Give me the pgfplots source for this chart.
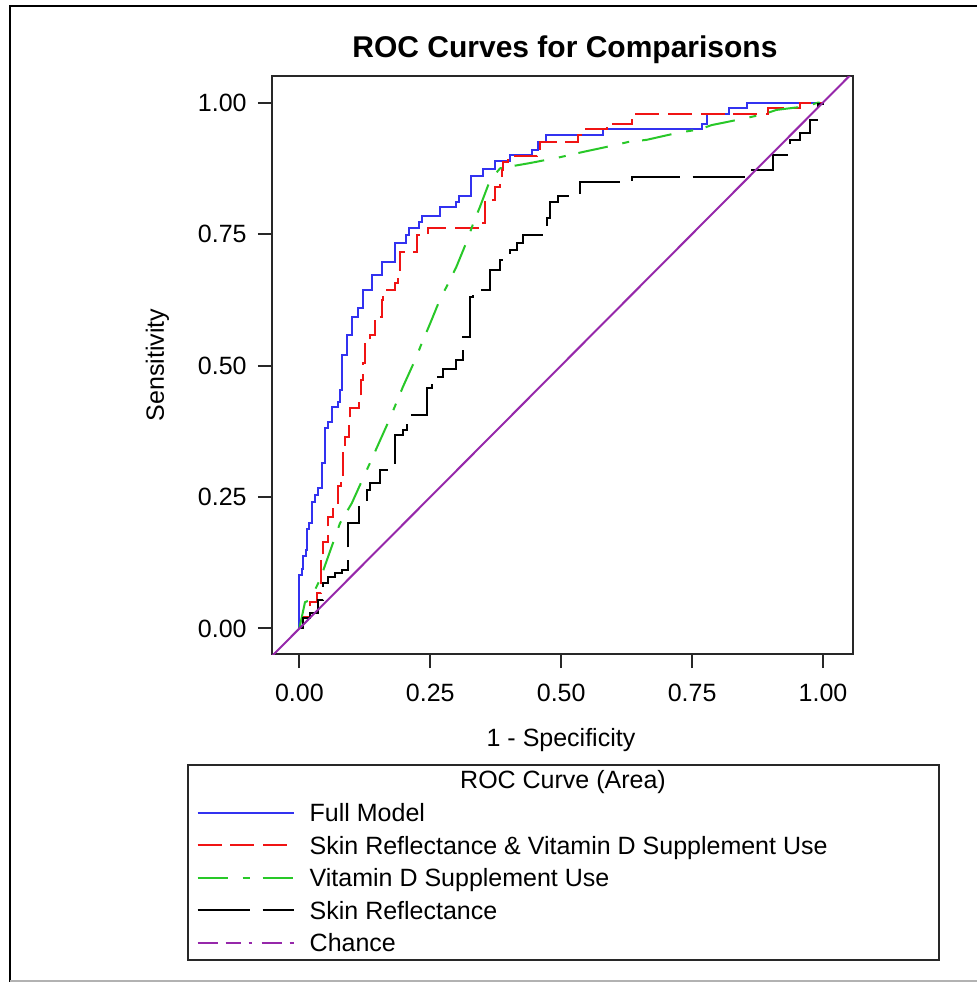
\documentclass[border=0pt]{standalone}
\usepackage{fontspec}
\setmainfont{Liberation Sans}
\usepackage{pgfplots}
\pgfplotsset{compat=1.18}

\definecolor{rocblue}{RGB}{50,50,240}
\definecolor{rocred}{RGB}{240,20,20}
\definecolor{rocgreen}{RGB}{40,200,40}
\definecolor{rocpurple}{RGB}{150,40,170}
\definecolor{framecol}{RGB}{40,40,40}
\newcommand{\txt}{\fontsize{12.5}{15}\selectfont}

\begin{document}
\begin{tikzpicture}
\useasboundingbox (0,0) rectangle (488.5pt,491pt);
\fill[white] (0,0) rectangle (488.5pt,491pt);
% outer frame
\draw[black, line width=1pt] (5pt,0pt) -- (5pt,488pt) -- (488.5pt,488pt);
\draw[black!30, line width=0.8pt] (5pt,0.5pt) -- (488.5pt,0.5pt);

\begin{axis}[
  at={(136pt,164pt)}, anchor=south west,
  scale only axis, width=290.5pt, height=289pt,
  xmin=-0.0523, xmax=1.0573, ymin=-0.0485, ymax=1.0504,
  xtick={0,0.25,0.5,0.75,1}, ytick={0,0.25,0.5,0.75,1},
  xtick pos=left, ytick pos=left,
  tick align=outside, major tick length=7pt,
  axis line style={framecol, line width=1pt},
  every tick/.append style={framecol, line width=1pt},
  tick label style={font=\txt},
  /pgf/number format/assume math mode=true,
  xticklabel={\pgfmathprintnumber[fixed,fixed zerofill,precision=2]{\tick}},
  yticklabel={\pgfmathprintnumber[fixed,fixed zerofill,precision=2]{\tick}},
  xticklabel style={inner sep=0pt, yshift=-8pt},
  yticklabel style={inner sep=0pt, xshift=-5.5pt},
  title={ROC Curves for Comparisons},
  title style={font=\fontsize{15}{18}\selectfont\bfseries, at={(axis description cs:0.5043,1.0104)}, anchor=base, inner sep=0pt},
  xlabel={1 - Specificity},
  xlabel style={font=\txt, at={(axis description cs:0.4974,-0.1592)}, anchor=base, inner sep=0pt},
  ylabel={Sensitivity},
  ylabel style={font=\txt, at={(axis description cs:-0.1859,0.5)}, anchor=base, inner sep=0pt},
  legend cell align=left,
  legend image code/.code={\draw[#1, line width=1pt] (0pt,0pt) -- (48pt,0pt);},
  legend style={at={(axis description cs:-0.1296,-0.2595)}, anchor=north west,
    draw=none, fill=none, inner sep=0pt, outer sep=0pt,
    row sep=7.25pt, column sep=7.5pt,
    nodes={inner sep=0pt, text height=9pt, text depth=0pt, font=\txt}},
]
% Full Model
\addplot[rocblue, line width=1pt, const plot mark left] coordinates {
(0,0) (0,0.102) (0.0044,0.114) (0.0074,0.137) (0.012,0.149) (0.015,0.190)
(0.019,0.200) (0.0235,0.241) (0.030,0.254) (0.036,0.267) (0.0426,0.314)
(0.049,0.381) (0.055,0.393) (0.062,0.422) (0.074,0.431) (0.0775,0.453)
(0.081,0.520) (0.0915,0.558) (0.100,0.593) (0.1125,0.609) (0.122,0.644)
(0.139,0.672) (0.158,0.697) (0.1826,0.732) (0.2036,0.748) (0.210,0.761)
(0.229,0.773) (0.2336,0.784) (0.2685,0.801) (0.299,0.811) (0.305,0.822)
(0.327,0.860) (0.351,0.873) (0.3736,0.889) (0.402,0.900) (0.445,0.910)
(0.456,0.925) (0.471,0.938) (0.580,0.949) (0.768,0.960) (0.778,0.978)
(0.821,0.989) (0.855,1.0) (1.0,1.0)
};
\addlegendentry{Full Model}
% Skin Reflectance & Vitamin D Supplement Use
\addplot[rocred, line width=1pt, dash pattern=on 12pt off 4.35pt, const plot mark left] coordinates {
(0,0) (0.0074,0.022) (0.020,0.051) (0.033,0.067) (0.0407,0.130) (0.0456,0.165)
(0.055,0.2125) (0.0647,0.2316) (0.0743,0.270) (0.079,0.292) (0.084,0.339)
(0.0877,0.365) (0.0953,0.390) (0.0966,0.419) (0.113,0.441) (0.117,0.472)
(0.121,0.504) (0.125,0.545) (0.135,0.558) (0.144,0.593) (0.157,0.6245)
(0.160,0.6435) (0.1826,0.657) (0.189,0.6816) (0.192,0.716) (0.224,0.748)
(0.246,0.761) (0.351,0.770) (0.3545,0.811) (0.361,0.815) (0.3736,0.840)
(0.384,0.853) (0.386,0.872) (0.389,0.887) (0.399,0.898) (0.454,0.910)
(0.4595,0.924) (0.5327,0.938) (0.542,0.949) (0.587,0.960) (0.635,0.9776)
(0.8955,0.989) (0.956,1.0) (1.0,1.0)
};
\addlegendentry{Skin Reflectance \& Vitamin D Supplement Use}
% Vitamin D Supplement Use
\addplot[rocgreen, line width=1pt, dash pattern=on 15pt off 7.5pt on 3.5pt off 6.5pt] coordinates {
(0,0) (0.0107,0.050) (0.020,0.054) (0.039,0.092) (0.0775,0.200) (0.100,0.238)
(0.1345,0.314) (0.173,0.3996) (0.198,0.460) (0.221,0.5105) (0.2336,0.542)
(0.2498,0.580) (0.268,0.6245) (0.2876,0.6625) (0.300,0.688) (0.3195,0.7354)
(0.332,0.770) (0.345,0.802) (0.3644,0.853) (0.3835,0.875) (0.441,0.885)
(0.4977,0.896) (0.5416,0.906) (0.6027,0.919) (0.628,0.925) (0.663,0.929)
(0.7236,0.9426) (0.765,0.949) (0.787,0.957) (0.8415,0.968) (0.886,0.9776)
(0.9116,0.986) (0.969,0.993) (0.991,1.0) (1.0,1.0)
};
\addlegendentry{Vitamin D Supplement Use}
% Skin Reflectance
\addplot[black, line width=1pt, dash pattern=on 26pt off 6.5pt, const plot mark left] coordinates {
(0,0) (0.0074,0.019) (0.020,0.029) (0.036,0.054) (0.0445,0.086) (0.055,0.098)
(0.068,0.105) (0.081,0.111) (0.0934,0.200) (0.1144,0.238) (0.1285,0.2633)
(0.135,0.276) (0.154,0.301) (0.1667,0.314) (0.1826,0.3679) (0.198,0.377)
(0.205,0.406) (0.243,0.4567) (0.2527,0.469) (0.262,0.479) (0.275,0.493)
(0.300,0.510) (0.313,0.555) (0.3258,0.631) (0.332,0.6435) (0.364,0.6816)
(0.383,0.7006) (0.402,0.7196) (0.415,0.732) (0.4276,0.748) (0.472,0.780)
(0.4786,0.811) (0.494,0.822) (0.5356,0.849) (0.6346,0.859) (0.864,0.872)
(0.9045,0.900) (0.937,0.929) (0.956,0.942) (0.975,0.967) (0.988,0.9825)
(0.991,0.998) (1.0,1.0)
};
\addlegendentry{Skin Reflectance}
% Chance
\addplot[rocpurple, line width=1pt, forget plot] coordinates {(-0.06,-0.06) (1.06,1.06)};
\addlegendimage{rocpurple, line width=1pt, dash pattern=on 10pt off 4pt on 7.5pt off 4pt on 1.5pt off 5pt}
\addlegendentry{Chance}
\end{axis}

\node[font=\txt, anchor=base] at (281.5pt,96.5pt) {ROC Curve (Area)};
\draw[framecol, line width=1pt] (94pt,11pt) rectangle (469.5pt,108.5pt);
\end{tikzpicture}
\end{document}
